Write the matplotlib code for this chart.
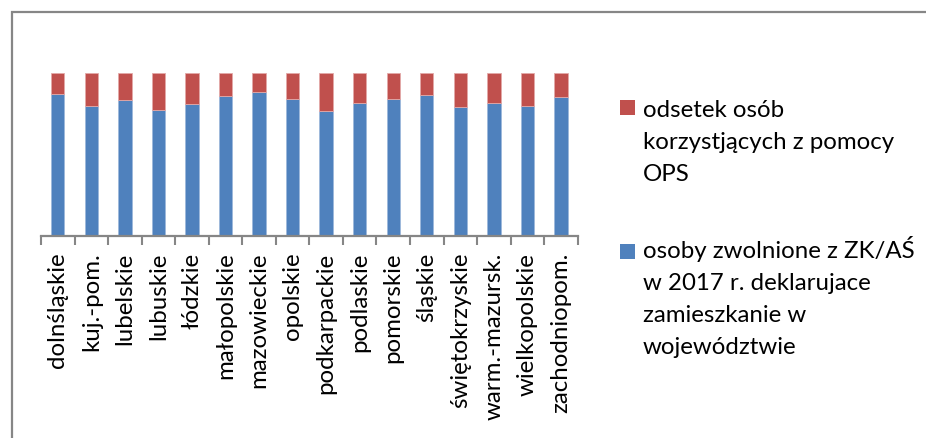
import matplotlib
matplotlib.use("Agg")
import matplotlib.pyplot as plt
from matplotlib.patches import Rectangle
import numpy as np

categories = ["dolnśląskie", "kuj.-pom.", "lubelskie", "lubuskie", "łódzkie",
              "małopolskie", "mazowieckie", "opolskie", "podkarpackie", "podlaskie",
              "pomorskie", "śląskie", "świętokrzyskie", "warm.-mazursk.",
              "wielkopolskie", "zachodniopom."]
blue_share = [87.1, 79.7, 83.4, 77.3, 81.1, 85.9, 88.3, 84.2,
              77.0, 81.7, 84.2, 86.6, 79.3, 81.6, 79.7, 85.2]
red_share = [12.9, 20.3, 16.6, 22.7, 18.9, 14.1, 11.7, 15.8,
             23.0, 18.3, 15.8, 13.4, 20.7, 18.4, 20.3, 14.8]
legend_labels = ["odsetek osób\nkorzystjących z pomocy\nOPS",
                 "osoby zwolnione z ZK/AŚ\nw 2017 r. deklarujace\nzamieszkanie w\nwojewództwie"]

BLUE = "#4F81BD"
RED = "#C0504D"
GRAY = "#868686"
FONT = "Lato"
FS = 17.3

W, H = 926, 438
fig = plt.figure(figsize=(W / 100, H / 100), dpi=100)

ax = fig.add_axes([41 / W, (H - 236) / H, (577.7 - 41) / W, (236 - 73.3) / H])
x = np.arange(len(categories))
blue = np.array(blue_share)
red = np.array(red_share)
tot = blue + red
blue_p = blue / tot * 100
red_p = red / tot * 100
ax.bar(x, blue_p, width=0.4, color=BLUE, edgecolor="#9DB8DB", linewidth=0.6)
ax.bar(x, red_p, bottom=blue_p, width=0.4, color=RED, edgecolor="#E3A9A8", linewidth=0.6)

ax.set_xlim(-0.5, len(categories) - 0.5)
ax.set_ylim(0, 100)
for s in ["top", "right", "left"]:
    ax.spines[s].set_visible(False)
ax.spines["bottom"].set_color(GRAY)
ax.spines["bottom"].set_linewidth(1.6)
ax.set_yticks([])
ax.set_xticks(x)
ax.set_xticklabels(categories, rotation=90, fontsize=FS, family=FONT)
ax.tick_params(axis="x", which="major", length=0, pad=12)
ax.set_xticks(np.arange(-0.5, len(categories), 1), minor=True)
ax.tick_params(axis="x", which="minor", length=6.5, width=1.5, color=GRAY, direction="out")

# outer chart frame
fig.add_artist(Rectangle((12 / W, -0.1), 1.0, (H - 12) / H + 0.1, transform=fig.transFigure,
                         fill=False, edgecolor=GRAY, linewidth=1.6, clip_on=False))

# legend (handle aligned with the first line of its text)
LINE = 32
entries = [(RED, legend_labels[0], 100, 116.7), (BLUE, legend_labels[1], 244, 258.3)]
for col, lab, ytop, base in entries:
    fig.add_artist(Rectangle((620 / W, (H - ytop - 15) / H), 15 / W, 15 / H,
                             transform=fig.transFigure, facecolor=col, edgecolor="none"))
    for i, line in enumerate(lab.split("\n")):
        fig.text(643 / W, (H - base - i * LINE) / H, line, ha="left", va="baseline",
                 fontsize=FS, family=FONT, color="black")

fig.savefig("out.png", dpi=100, facecolor="white")
